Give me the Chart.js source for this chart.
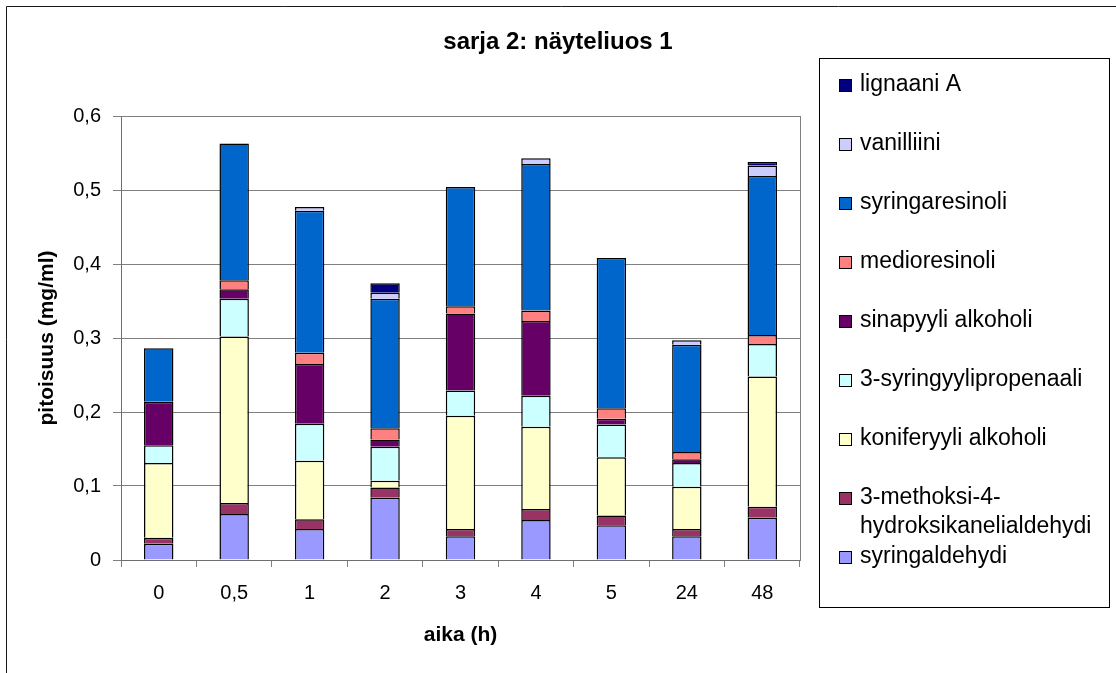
<!DOCTYPE html>
<html>
<head>
<meta charset="utf-8">
<script src="https://cdn.jsdelivr.net/npm/chart.js@4/dist/chart.umd.min.js"></script>
<style>
  html, body { margin: 0; padding: 0; background: #fff; }
  canvas { display: block; }
</style>
</head>
<body>
<canvas id="chart" width="1116" height="673"></canvas>
<script>
// Sampling times (h)
const categories = ['0', '0,5', '1', '2', '3', '4', '5', '24', '48'];

// Concentrations, mg/ml (stack order: bottom to top)
const syringaldehydi      = [0.022, 0.062, 0.042, 0.084, 0.032, 0.054, 0.047, 0.032, 0.057];
const methoksiHydroksi    = [0.008, 0.015, 0.013, 0.014, 0.010, 0.015, 0.013, 0.010, 0.015];
const koniferyyliAlkoholi = [0.101, 0.225, 0.079, 0.009, 0.153, 0.111, 0.079, 0.057, 0.176];
const syringyyliPropenaali= [0.024, 0.051, 0.050, 0.046, 0.034, 0.042, 0.044, 0.032, 0.044];
const sinapyyliAlkoholi   = [0.059, 0.013, 0.081, 0.010, 0.104, 0.101, 0.008, 0.005, 0.000];
const medioresinoli       = [0.000, 0.012, 0.015, 0.015, 0.010, 0.014, 0.014, 0.010, 0.012];
const syringaresinoli     = [0.072, 0.185, 0.192, 0.175, 0.161, 0.198, 0.203, 0.145, 0.215];
const vanilliini          = [0.000, 0.000, 0.005, 0.008, 0.000, 0.008, 0.000, 0.006, 0.014];
const lignaaniA           = [0.000, 0.000, 0.000, 0.013, 0.000, 0.000, 0.000, 0.000, 0.005];

// Y axis tick values
const yTicks = [0, 0.1, 0.2, 0.3, 0.4, 0.5, 0.6];

const seriesNames = [
  'syringaldehydi',
  '3-methoksi-4-hydroksikanelialdehydi',
  'koniferyyli alkoholi',
  '3-syringyylipropenaali',
  'sinapyyli alkoholi',
  'medioresinoli',
  'syringaresinoli',
  'vanilliini',
  'lignaani A'
];
const seriesValues = [
  syringaldehydi, methoksiHydroksi, koniferyyliAlkoholi, syringyyliPropenaali,
  sinapyyliAlkoholi, medioresinoli, syringaresinoli, vanilliini, lignaaniA
];
const seriesColors = [
  '#9999FF', '#993366', '#FFFFCC', '#CCFFFF', '#660066',
  '#FF8080', '#0066CC', '#CCCCFF', '#000080'
];

const FONT = '"Liberation Sans", Arial, Helvetica, sans-serif';
Chart.defaults.font.family = FONT;
Chart.defaults.color = '#000';

const datasets = seriesNames.map((name, i) => ({
  label: name,
  data: seriesValues[i],
  backgroundColor: seriesColors[i],
  borderColor: '#000',
  borderWidth: { top: 1.5, left: 1.5, right: 1.5, bottom: 0 },
  borderSkipped: false,
  categoryPercentage: 1,
  barPercentage: 0.39
}));

// White page, outer frame
const framePlugin = {
  id: 'frame',
  beforeDraw(chart) {
    const ctx = chart.ctx;
    ctx.save();
    ctx.fillStyle = '#fff';
    ctx.fillRect(0, 0, chart.width, chart.height);
    ctx.restore();
  },
  afterDraw(chart) {
    const ctx = chart.ctx;
    ctx.save();
    ctx.strokeStyle = '#1a1a1a';
    ctx.lineWidth = 1;
    ctx.beginPath();
    ctx.moveTo(6.5, chart.height);
    ctx.lineTo(6.5, 6.5);
    ctx.lineTo(chart.width, 6.5);
    ctx.stroke();
    ctx.restore();
  }
};

// Break a long label after hyphens so it fits the legend box
function wrapLabel(ctx, text, maxWidth) {
  if (ctx.measureText(text).width <= maxWidth) return [text];
  const parts = text.split(/(?<=-)/);
  const lines = [];
  let cur = '';
  parts.forEach(p => {
    if (cur && ctx.measureText(cur + p).width > maxWidth) {
      lines.push(cur);
      cur = p;
    } else {
      cur += p;
    }
  });
  if (cur) lines.push(cur);
  return lines;
}

// Boxed legend on the right, top of the stack listed first
const legendPlugin = {
  id: 'sideLegend',
  afterDraw(chart) {
    const ctx = chart.ctx;
    const box = { x: 819.5, y: 58.5, w: 290, h: 549 };
    ctx.save();
    ctx.strokeStyle = '#000';
    ctx.lineWidth = 1;
    ctx.strokeRect(box.x, box.y, box.w, box.h);

    ctx.font = '23px ' + FONT;
    ctx.textBaseline = 'middle';
    ctx.textAlign = 'left';
    const firstY = 84.5;
    const lineH = 29.5;
    const markerX = 839;
    const textX = 860;
    const maxW = box.x + box.w - textX - 2;
    let line = 0;
    const items = chart.data.datasets.slice().reverse();
    items.forEach(ds => {
      const y = firstY + line * lineH;
      ctx.fillStyle = ds.backgroundColor;
      ctx.fillRect(markerX, Math.round(y) - 6, 13, 13);
      ctx.strokeStyle = '#000';
      ctx.strokeRect(markerX + 0.5, Math.round(y) - 5.5, 12, 12);
      ctx.fillStyle = '#000';
      const lines = wrapLabel(ctx, ds.label, maxW);
      lines.forEach((t, k) => ctx.fillText(t, textX, y + k * lineH));
      line += Math.max(2, lines.length);
    });
    ctx.restore();
  }
};

new Chart(document.getElementById('chart'), {
  type: 'bar',
  data: { labels: categories, datasets },
  plugins: [framePlugin, legendPlugin],
  options: {
    responsive: false,
    animation: false,
    devicePixelRatio: 1,
    layout: { padding: 0 },
    plugins: {
      legend: { display: false },
      tooltip: { enabled: false },
      title: {
        display: true,
        text: 'sarja 2: näyteliuos 1',
        color: '#000',
        font: { size: 24, weight: 'bold', family: FONT, lineHeight: 1.2 },
        padding: { top: 27.6, bottom: 59.6 }
      }
    },
    scales: {
      x: {
        stacked: true,
        offset: true,
        grid: {
          offset: true,
          drawOnChartArea: false,
          drawTicks: true,
          tickLength: 7,
          color: '#808080'
        },
        border: { display: true, color: '#6e6e6e', width: 1 },
        ticks: {
          font: { size: 20, family: FONT, lineHeight: 1.2 },
          color: '#000',
          padding: 14,
          maxRotation: 0
        },
        title: {
          display: true,
          text: 'aika (h)',
          color: '#000',
          font: { size: 21, weight: 'bold', family: FONT, lineHeight: 1.2 },
          padding: { top: 0, bottom: 25.4 }
        },
        afterFit(scale) { scale.height = 113; }
      },
      y: {
        stacked: true,
        min: 0,
        max: 0.6,
        grid: {
          color: '#808080',
          tickLength: 8,
          drawTicks: true
        },
        border: { display: true, color: '#6e6e6e', width: 1 },
        afterBuildTicks(scale) {
          scale.ticks = yTicks.map(v => ({ value: v }));
        },
        ticks: {
          font: { size: 20, family: FONT, lineHeight: 1.2 },
          color: '#000',
          padding: 12,
          callback: v => String(Math.round(v * 10) / 10).replace('.', ',')
        },
        title: {
          display: true,
          text: 'pitoisuus (mg/ml)',
          color: '#000',
          font: { size: 21, weight: 'bold', family: FONT, lineHeight: 1.2 },
          padding: { top: 34.4, bottom: 0 }
        },
        afterFit(scale) { scale.width = 121; }
      },
      yRight: {
        position: 'right',
        display: true,
        grid: { display: false, drawTicks: false },
        ticks: { display: false },
        border: { display: true, color: '#808080', width: 1 },
        afterFit(scale) { scale.width = 316; }
      }
    }
  }
});
</script>
</body>
</html>
